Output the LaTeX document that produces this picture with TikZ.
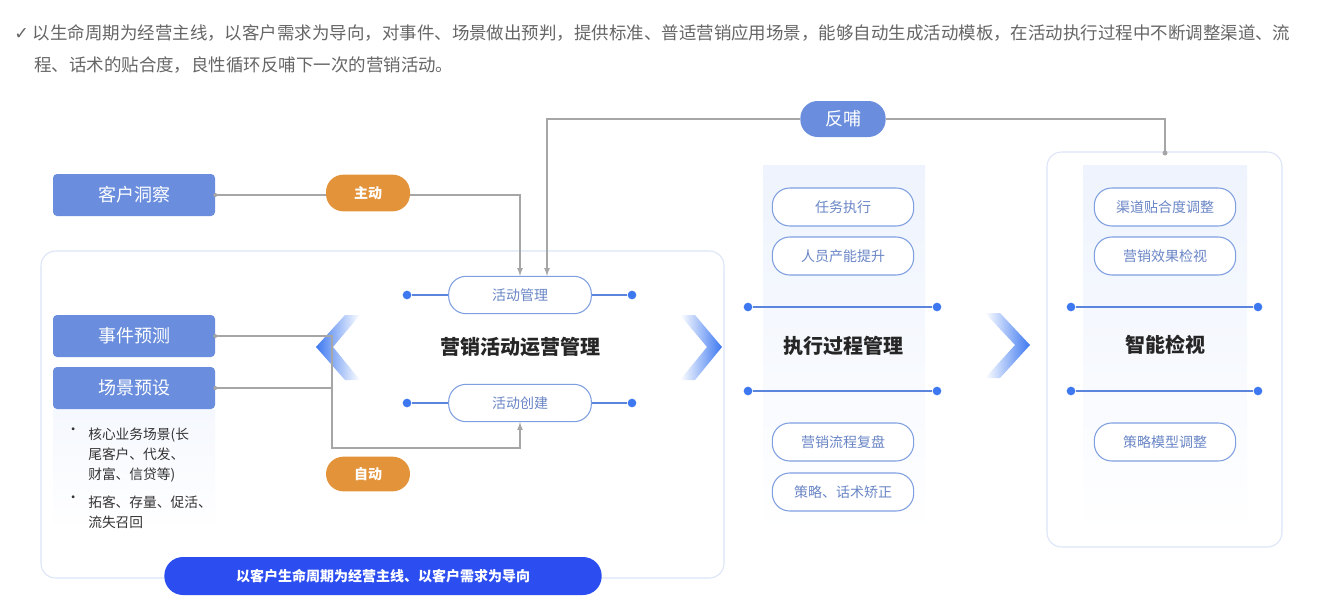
\documentclass[tikz,border=0pt]{standalone}
\usepackage{fontspec}
\setmainfont{Noto Sans CJK SC}
\newfontfamily\djfont{DejaVu Sans}
\begin{document}
\begin{tikzpicture}[x=0.75pt,y=-0.75pt,
  blk/.style={draw=none,fill=boxblue,rounded corners=3pt,text=white,font=\fontsize{13.5}{16}\selectfont},
  orng/.style={fill=orng,rounded corners=13pt,text=white,font=\bfseries\fontsize{10.5}{12}\selectfont},
  pill/.style={draw=pillb,line width=0.8pt,fill=white,rounded corners=13pt,text=pillt,font=\fontsize{10.5}{12}\selectfont},
  title/.style={font=\bfseries\fontsize{15}{18}\selectfont,text=black!85},
  con/.style={draw=gray!70,line width=1pt},
  bl/.style={draw=lineb,line width=1.3pt},
  dot/.style={circle,fill=dotb,inner sep=0pt,minimum size=6.5pt},
  lst/.style={anchor=north west,align=left,font=\fontsize{10.3}{15}\selectfont,text=black!80,inner sep=0pt},
  cont/.style={draw=contb,line width=0.8pt,rounded corners=11pt,fill=white}]
\definecolor{boxblue}{HTML}{6A8EDD}
\definecolor{orng}{HTML}{E3943A}
\definecolor{pillb}{HTML}{7F9FE0}
\definecolor{pillt}{HTML}{6A86C6}
\definecolor{lineb}{HTML}{5B84DC}
\definecolor{dotb}{HTML}{3D78F0}
\definecolor{contb}{HTML}{DCE5F7}
\definecolor{deep}{HTML}{2C4EF0}
\definecolor{colbg}{HTML}{EEF3FD}
\useasboundingbox (0,0) rectangle (1318,614);
\fill[white] (0,0) rectangle (1318,614);
% top text
\node[anchor=west,text=gray!80!black,font=\fontsize{13.1}{15}\selectfont,inner sep=0pt] (chk) at (14,33) {{\djfont ✓}\ 以生命周期为经营主线，以客户需求为导向，对事件、场景做出预判，提供标准、普适营销应用场景，能够自动生成活动模板，在活动执行过程中不断调整渠道、流};
\node[anchor=west,text=gray!80!black,font=\fontsize{13.1}{15}\selectfont,inner sep=0pt] (chk2) at (34,65) {程、话术的贴合度，良性循环反哺下一次的营销活动。};
% containers
\draw[cont] (41,251) rectangle (724,578);
\draw[cont] (1047,152) rectangle (1282,547);
\shade[top color=colbg,bottom color=white] (763,165) rectangle (925,535);
\shade[top color=colbg,bottom color=white] (1083,165) rectangle (1247,535);
\shade[top color=colbg!60,bottom color=white] (53,409) rectangle (215,532);
% chevrons
\shade[left color=dotb,right color=white] (316,347) -- (345,315) -- (360,315) -- (333,347) -- (360,380) -- (345,380) -- cycle;
\shade[left color=white,right color=dotb] (680,315) -- (695,315) -- (722,347) -- (695,380) -- (680,380) -- (707,347) -- cycle;
\shade[left color=white,right color=dotb] (985,313) -- (1000,313) -- (1030,345) -- (1000,378) -- (985,378) -- (1015,345) -- cycle;
% left boxes
\node[blk,minimum width=121.5pt,minimum height=31.5pt] (kh) at (134,195) {客户洞察};
\node[blk,minimum width=121.5pt,minimum height=31.5pt] (sj) at (134,336) {事件预测};
\node[blk,minimum width=121.5pt,minimum height=31.5pt] (cj) at (134,388) {场景预设};
\node[lst] (b1) at (66,428) {•};
\node[lst] (l1) at (88,428) {核心业务场景(长\\尾客户、代发、\\财富、信贷等)};
\node[lst] (b2) at (66,496) {•};
\node[lst] (l2) at (88,496) {拓客、存量、促活、\\流失召回};
\node[orng,minimum width=63pt,minimum height=27.5pt] (zd) at (368,193) {主动};
\node[orng,minimum width=63pt,minimum height=26pt] (zd2) at (368,474) {自动};
\node[fill=boxblue,rounded corners=13pt,text=white,minimum width=64pt,minimum height=27pt,font=\fontsize{13.5}{16}\selectfont] (fb) at (843,119) {反哺};
\node[fill=deep,rounded corners=14pt,text=white,minimum width=328pt,minimum height=28.5pt,font=\bfseries\fontsize{10.5}{12}\selectfont] (bot) at (383,576) {以客户生命周期为经营主线、以客户需求为导向};
% middle left pills
\node[dot] (d1) at (407,295) {}; \node[dot] (d2) at (632,295) {};
\node[dot] (d3) at (407,403) {}; \node[dot] (d4) at (632,403) {};
\draw[bl] (d1) -- (d2); \draw[bl] (d3) -- (d4);
\node[pill,minimum width=107pt,minimum height=28pt] (hg) at (520,295) {活动管理};
\node[pill,minimum width=107pt,minimum height=28pt] (hc) at (520,403) {活动创建};
\node[title] (t1) at (520,347) {营销活动运营管理};
% column 2
\node[dot] (e1) at (748,307) {}; \node[dot] (e2) at (937,307) {};
\node[dot] (e3) at (748,391) {}; \node[dot] (e4) at (937,391) {};
\draw[bl] (e1) -- (e2); \draw[bl] (e3) -- (e4);
\node[title] (t2) at (843,346) {执行过程管理};
\node[pill,minimum width=106pt,minimum height=28.5pt] (p1) at (843,207) {任务执行};
\node[pill,minimum width=106pt,minimum height=28.5pt] (p2) at (843,256) {人员产能提升};
\node[pill,minimum width=106pt,minimum height=28.5pt] (p3) at (843,442) {营销流程复盘};
\node[pill,minimum width=106pt,minimum height=28.5pt] (p4) at (843,492) {策略、话术矫正};
% column 3
\node[dot] (f1) at (1071,307) {}; \node[dot] (f2) at (1258,307) {};
\node[dot] (f3) at (1071,391) {}; \node[dot] (f4) at (1258,391) {};
\draw[bl] (f1) -- (f2); \draw[bl] (f3) -- (f4);
\node[title] (t3) at (1165,345) {智能检视};
\node[pill,minimum width=106pt,minimum height=28.5pt] (q1) at (1165,207) {渠道贴合度调整};
\node[pill,minimum width=106pt,minimum height=28.5pt] (q2) at (1165,256) {营销效果检视};
\node[pill,minimum width=106pt,minimum height=28.5pt] (q3) at (1165,442) {策略模型调整};
% connectors
\coordinate (c1) at (520,195);
\coordinate (rt) at (1165,153);
\coordinate (j) at (332,336);
\coordinate (fbl) at (547,119);
\coordinate (fbr) at (1165,119);
\coordinate (jb) at (332,448);
\coordinate (cb) at (520,448);
\coordinate (cjj) at (332,388);
\draw[con] (kh.east) -- (zd.west |- kh.east);
\draw[con,-latex] (zd.east |- c1) -- (c1) -- (hg.north);
\draw[con] (rt) -- (fbr) -- (fb.east);
\draw[con,-latex] (fb.west) -- (fbl) -- (fbl |- hg.north);
\fill[gray!70] (rt) circle (2.5);
\fill[gray!70] (kh.east) circle (2); \fill[gray!70] (sj.east) circle (2); \fill[gray!70] (cj.east) circle (2);
\draw[con,-latex] (sj.east) -- (j) -- (jb) -- (cb) -- (hc.south);
\draw[con] (cj.east) -- (cjj);
\end{tikzpicture}
\end{document}
